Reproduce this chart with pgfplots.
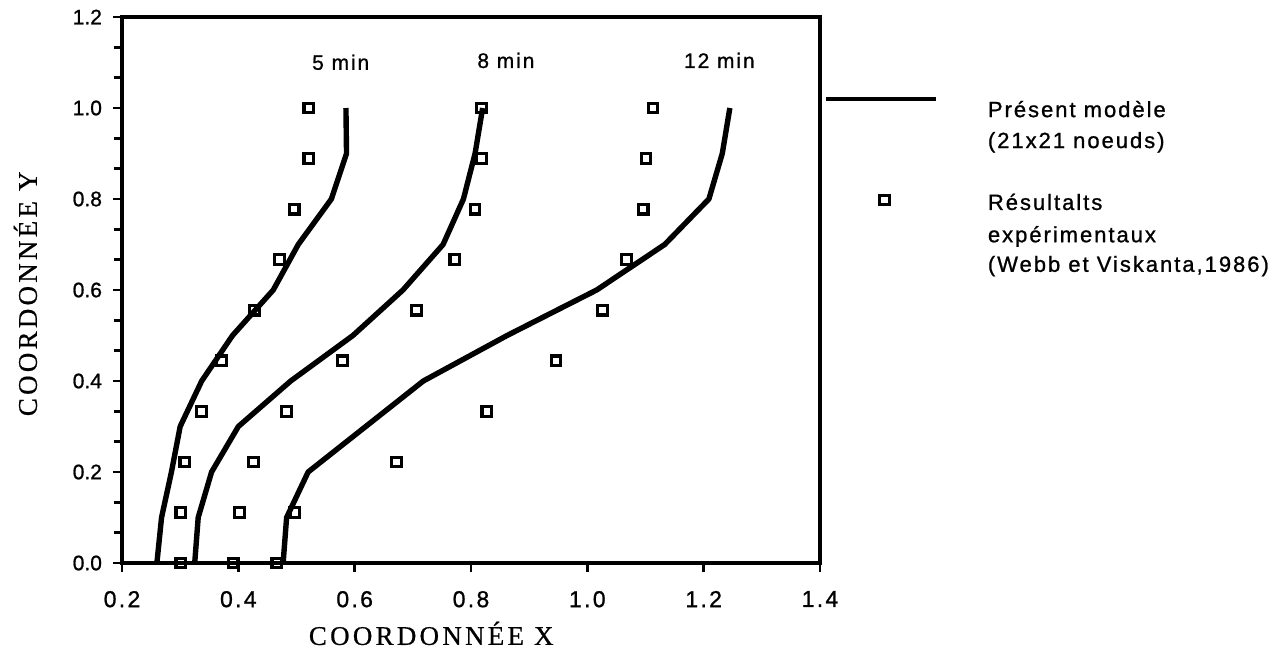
\documentclass[border=0pt]{standalone}
\usepackage{fontspec}
\setmainfont{Liberation Serif}
\newfontfamily\helv{Liberation Sans}[FakeBold=1]
\newfontfamily\helvsp{Liberation Sans}[LetterSpace=9,FakeBold=1]
\newfontfamily\helvx{Liberation Sans}[LetterSpace=10,FakeBold=1]
\newfontfamily\serifsp{Liberation Serif}[LetterSpace=12,FakeBold=0.6]
\usepackage{pgfplots}
\pgfplotsset{compat=1.18}

\pgfplotstableread{
x y
0.260 0.0
0.268 0.1
0.285 0.2
0.300 0.3
0.337 0.4
0.390 0.5
0.460 0.6
0.503 0.7
0.560 0.8
0.586 0.9
0.585 1.0
}\modelA
\pgfplotstableread{
x y
0.325 0.0
0.331 0.1
0.354 0.2
0.400 0.3
0.490 0.4
0.597 0.5
0.683 0.6
0.752 0.7
0.787 0.8
0.807 0.9
0.820 1.0
}\modelB
\pgfplotstableread{
x y
0.477 0.0
0.483 0.1
0.520 0.2
0.619 0.3
0.718 0.4
0.862 0.5
1.016 0.6
1.133 0.7
1.209 0.8
1.232 0.9
1.245 1.0
}\modelC
\pgfplotstableread{
x y
0.301 0.0
0.301 0.1111
0.308 0.2222
0.337 0.3333
0.371 0.4444
0.428 0.5556
0.471 0.6667
0.496 0.7778
0.521 0.8889
0.521 1.0
}\expA
\pgfplotstableread{
x y
0.391 0.0
0.402 0.1111
0.426 0.2222
0.483 0.3333
0.579 0.4444
0.706 0.5556
0.772 0.6667
0.807 0.7778
0.818 0.8889
0.818 1.0
}\expB
\pgfplotstableread{
x y
0.466 0.0
0.497 0.1111
0.672 0.2222
0.827 0.3333
0.946 0.4444
1.026 0.5556
1.067 0.6667
1.096 0.7778
1.101 0.8889
1.113 1.0
}\expC

\begin{document}
\begin{tikzpicture}
\useasboundingbox (0,0) rectangle (641.5pt,325pt);
\pgfplotsset{
  common/.style={
    at={(61pt,43.5pt)}, anchor=south west,
    scale only axis, width=349pt, height=273pt,
    xmin=0.2, xmax=1.4, ymin=0, ymax=1.2,
  },
  curve/.style={black, line width=2.7pt, line join=round, no markers},
  sq/.style={only marks, mark=square, mark size=2.4pt, mark options={black, line width=1.6pt, fill=white}},
}
\begin{axis}[
  common,
  xtick={0.2,0.4,0.6,0.8,1.0,1.2,1.4},
  ytick={0,0.2,0.4,0.6,0.8,1.0,1.2},
  minor y tick num=2,
  xtick pos=bottom, ytick pos=left,
  tick align=outside,
  major tick length=4.5pt, minor tick length=4pt,
  axis line style={line width=1.7pt},
  tick style={line width=1.4pt, black},
  every tick label/.append style={font=\helv\fontsize{10.5}{12}\selectfont},
  xticklabel style={font=\helvx\fontsize{11.5}{13}\selectfont, yshift=-6pt},
  yticklabel style={xshift=-2pt},
  /pgf/number format/fixed,
  /pgf/number format/fixed zerofill,
  /pgf/number format/precision=1,
  /pgf/number format/assume math mode=true,
  xlabel={COORDONNÉE X},
  ylabel={COORDONNÉE Y},
  xlabel style={at={(axis description cs:0.443,-0.150)}, anchor=base, font=\serifsp\fontsize{13.5}{16}\selectfont},
  ylabel style={at={(axis description cs:-0.122,0.493)}, anchor=base, font=\serifsp\fontsize{13.5}{16}\selectfont},
]
\addplot[curve] table {\modelA};
\addplot[curve] table {\modelB};
\addplot[curve] table {\modelC};
\addplot[sq] table {\expA};
\addplot[sq] table {\expB};
\addplot[sq] table {\expC};
\node[anchor=base, font=\helvsp\fontsize{10.5}{12}\selectfont] at (axis cs:0.576,1.084) {5 min};
\node[anchor=base, font=\helvsp\fontsize{10.5}{12}\selectfont] at (axis cs:0.860,1.088) {8 min};
\node[anchor=base, font=\helvsp\fontsize{10.5}{12}\selectfont] at (axis cs:1.227,1.088) {12 min};
\end{axis}
% legend, drawn in an overlaid axis without clipping
\begin{axis}[common, axis lines=none, clip=false]
\addplot[black, line width=2pt, no markers] coordinates {(1.411,1.0205) (1.600,1.0205)};
\addplot[sq] coordinates {(1.511,0.798)};
\begin{scope}[every node/.style={anchor=base west, inner sep=0pt, font=\helvsp\fontsize{11}{13}\selectfont}]
\node at (axis cs:1.688,0.980) {Présent modèle};
\node at (axis cs:1.688,0.912) {(21x21 noeuds)};
\node at (axis cs:1.688,0.776) {Résultalts};
\node at (axis cs:1.688,0.705) {expérimentaux};
\node at (axis cs:1.688,0.640) {(Webb et Viskanta,1986)};
\end{scope}
\end{axis}
\end{tikzpicture}
\end{document}
